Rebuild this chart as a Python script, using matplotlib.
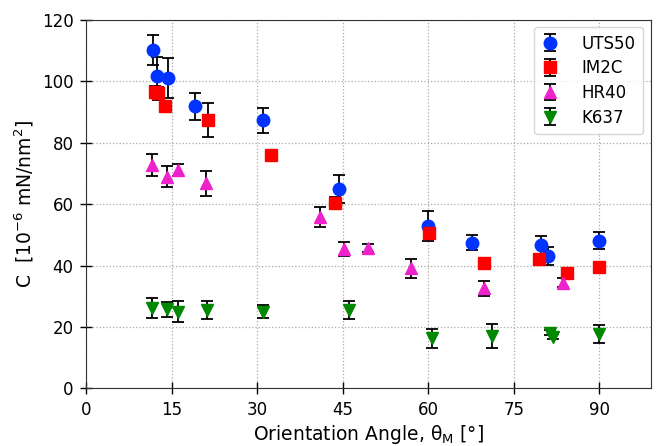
import matplotlib
matplotlib.use("Agg")
import matplotlib.pyplot as plt

# UTS50
uts_x = [11.8, 12.4, 14.3, 19.1, 31.1, 44.3, 60.0, 67.7, 79.8, 81.0, 90.0]
uts_y = [110.1, 101.7, 101.0, 91.8, 87.2, 64.9, 52.8, 47.4, 46.7, 43.1, 48.1]
uts_e = [5.0, 6.0, 6.5, 4.3, 4.0, 4.5, 4.8, 2.5, 3.0, 3.0, 2.7]

# IM2C
im2c_x = [12.1, 12.7, 13.9, 21.4, 32.5, 43.6, 60.1, 69.7, 79.4, 84.3, 90.0]
im2c_y = [96.5, 96.0, 91.9, 87.3, 75.8, 60.4, 50.5, 40.7, 42.0, 37.5, 39.4]
im2c_e = [2.0, 2.0, 1.5, 5.5, 1.0, 2.0, 1.5, 1.0, 1.0, 1.0, 1.0]

# HR40
hr40_x = [11.6, 14.2, 16.2, 21.1, 41.1, 45.3, 49.5, 57.0, 69.7, 83.7]
hr40_y = [72.7, 68.9, 71.1, 66.7, 55.9, 45.3, 45.6, 39.1, 32.6, 34.4]
hr40_e = [3.5, 3.5, 2.0, 4.2, 3.3, 2.2, 1.3, 3.0, 2.4, 1.5]

# K637
k637_x = [11.5, 14.2, 16.2, 21.2, 31.1, 46.1, 60.6, 71.1, 81.3, 81.9, 90.0]
k637_y = [26.1, 25.8, 25.0, 25.5, 25.0, 25.5, 16.3, 17.1, 18.2, 16.9, 17.7]
k637_e = [3.3, 2.4, 3.3, 2.8, 2.0, 3.0, 3.2, 3.8, 0.8, 0.8, 2.9]

fig = plt.figure(figsize=(6.56, 4.46), dpi=100)
ax = fig.add_axes([0.131, 0.129, 0.861, 0.827])

kw = dict(linestyle='none', ecolor='black', elinewidth=1.3, capsize=4, capthick=1.3, markersize=9)
ax.errorbar(uts_x, uts_y, yerr=uts_e, fmt='o', color='#0033ff', label='UTS50', **kw)
ax.errorbar(im2c_x, im2c_y, yerr=im2c_e, fmt='s', color='#ff0000', label='IM2C', **kw)
ax.errorbar(hr40_x, hr40_y, yerr=hr40_e, fmt='^', color='#ee22cc', label='HR40', **kw)
ax.errorbar(k637_x, k637_y, yerr=k637_e, fmt='v', color='#008800', label='K637', **kw)

ax.set_xlim(0, 99)
ax.set_ylim(0, 120)
ax.set_xticks([0, 15, 30, 45, 60, 75, 90])
ax.set_yticks([0, 20, 40, 60, 80, 100, 120])
ax.tick_params(direction='inout', length=8, width=1, labelsize=12, pad=5)
ax.grid(True, linestyle=':', color='#aaaaaa', linewidth=0.9)
ax.set_axisbelow(True)
for s in ax.spines.values():
    s.set_color('#333333')

ax.set_xlabel(r'Orientation Angle, $\mathrm{\theta_M}$ [°]', fontsize=13.5, labelpad=3)
ax.set_ylabel(r'C  [$\mathrm{10^{-6}}$ mN/nm$\mathrm{^2}$]', fontsize=13.5, labelpad=4)

ax.legend(loc='upper right', fontsize=12, borderpad=0.45, handlelength=1.0,
          handletextpad=1.4, labelspacing=0.4, borderaxespad=0.45)

plt.savefig("out.png", dpi=100)
